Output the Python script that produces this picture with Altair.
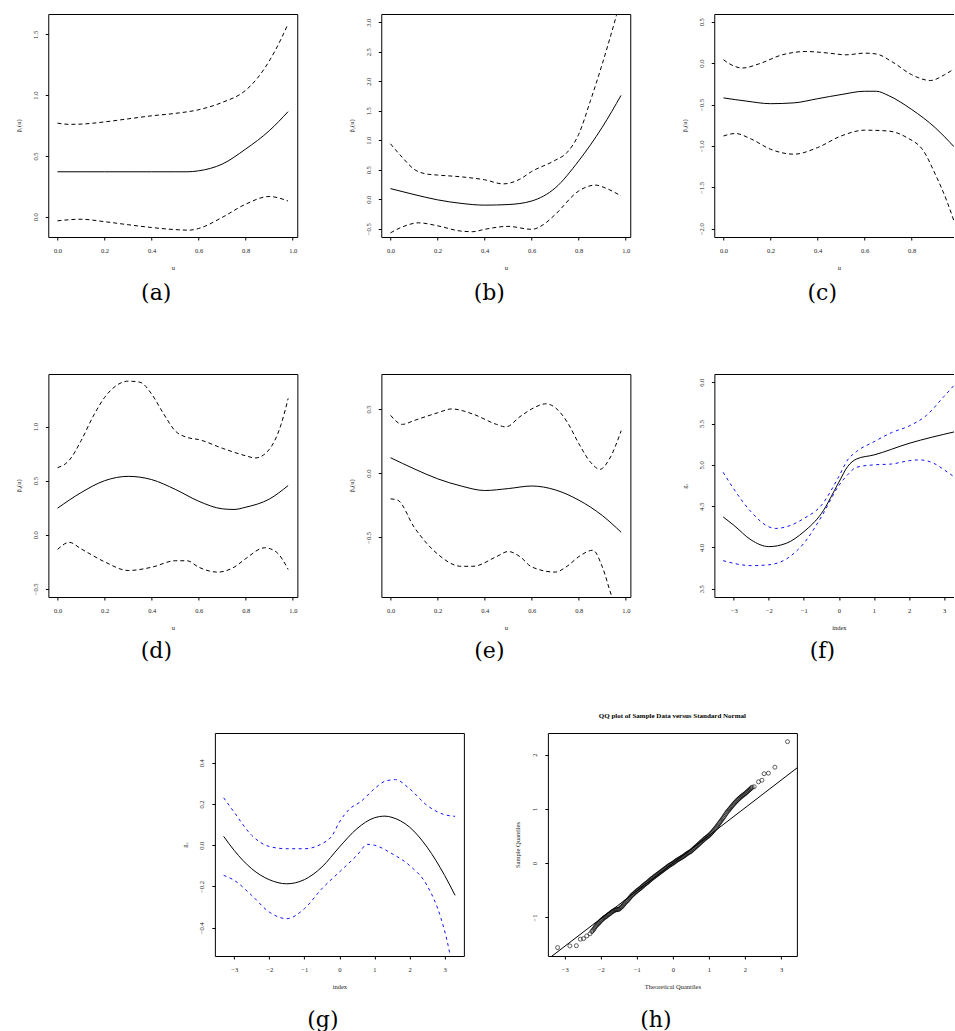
import altair as alt
import pandas as pd

SERIF = "Liberation Serif"
CAP_FONT = "DejaVu Serif"

# ---------------- data ----------------
# (a)
A_EST_U = [0, 0.1, 0.2, 0.3, 0.4, 0.5, 0.55, 0.6, 0.7, 0.8, 0.9, 0.98]
A_EST = [0.37, 0.37, 0.37, 0.37, 0.37, 0.37, 0.37, 0.378, 0.433, 0.557, 0.707, 0.864]
A_HI_U = [0, 0.05, 0.1, 0.2, 0.3, 0.4, 0.5, 0.6, 0.7, 0.8, 0.85, 0.9, 0.95, 0.98]
A_HI = [0.77, 0.76, 0.762, 0.78, 0.805, 0.83, 0.85, 0.88, 0.94, 1.04, 1.14, 1.28, 1.46, 1.585]
A_LO_U = [0, 0.1, 0.2, 0.3, 0.4, 0.5, 0.56, 0.6, 0.7, 0.8, 0.9, 0.98]
A_LO = [-0.033, -0.02, -0.04, -0.065, -0.088, -0.105, -0.11, -0.096, -0.005, 0.104, 0.167, 0.13]

# (b)
B_EST_U = [0, 0.1, 0.2, 0.3, 0.4, 0.5, 0.6, 0.7, 0.8, 0.9, 0.98]
B_EST = [0.18, 0.08, -0.01, -0.07, -0.10, -0.09, -0.03, 0.19, 0.65, 1.22, 1.76]
B_HI_U = [0, 0.05, 0.1, 0.15, 0.2, 0.3, 0.4, 0.48, 0.55, 0.6, 0.7, 0.75, 0.8, 0.85, 0.9, 0.96, 0.98]
B_HI = [0.94, 0.71, 0.51, 0.43, 0.41, 0.38, 0.33, 0.26, 0.34, 0.47, 0.66, 0.79, 1.10, 1.67, 2.29, 3.11, 3.40]
B_LO_U = [0, 0.05, 0.12, 0.2, 0.3, 0.35, 0.4, 0.5, 0.6, 0.65, 0.7, 0.8, 0.87, 0.92, 0.98]
B_LO = [-0.57, -0.47, -0.40, -0.45, -0.54, -0.55, -0.51, -0.46, -0.51, -0.43, -0.26, 0.14, 0.24, 0.18, 0.055]

# (c)
C_EST_U = [0, 0.1, 0.2, 0.3, 0.4, 0.5, 0.6, 0.65, 0.7, 0.8, 0.9, 0.98]
C_EST = [-0.42, -0.46, -0.49, -0.48, -0.43, -0.38, -0.34, -0.34, -0.39, -0.56, -0.78, -1.01]
C_HI_U = [0, 0.04, 0.08, 0.15, 0.25, 0.35, 0.45, 0.52, 0.6, 0.65, 0.72, 0.8, 0.88, 0.94, 0.98]
C_HI = [0.04, -0.03, -0.06, -0.01, 0.10, 0.14, 0.12, 0.10, 0.12, 0.11, 0.01, -0.14, -0.21, -0.14, -0.07]
C_LO_U = [0, 0.05, 0.12, 0.2, 0.3, 0.4, 0.5, 0.6, 0.7, 0.78, 0.85, 0.9, 0.95, 0.98]
C_LO = [-0.88, -0.85, -0.92, -1.04, -1.10, -1.02, -0.88, -0.81, -0.82, -0.90, -1.06, -1.34, -1.67, -1.91]

# (d)
D_EST_U = [0, 0.1, 0.2, 0.3, 0.4, 0.5, 0.6, 0.7, 0.75, 0.8, 0.9, 0.98]
D_EST = [0.246, 0.39, 0.50, 0.54, 0.51, 0.42, 0.31, 0.24, 0.234, 0.255, 0.33, 0.455]
D_HI_U = [0, 0.05, 0.1, 0.15, 0.2, 0.25, 0.3, 0.35, 0.4, 0.45, 0.5, 0.55, 0.6, 0.7, 0.8, 0.84, 0.9, 0.95, 0.98]
D_HI = [0.62, 0.69, 0.87, 1.09, 1.27, 1.38, 1.42, 1.41, 1.30, 1.12, 0.96, 0.90, 0.88, 0.80, 0.73, 0.71, 0.79, 1.02, 1.26]
D_LO_U = [0, 0.05, 0.1, 0.2, 0.3, 0.4, 0.5, 0.55, 0.6, 0.68, 0.75, 0.8, 0.88, 0.93, 0.98]
D_LO = [-0.135, -0.07, -0.13, -0.25, -0.33, -0.30, -0.24, -0.24, -0.30, -0.345, -0.30, -0.22, -0.12, -0.16, -0.32]

# (e)
E_EST_U = [0, 0.1, 0.2, 0.3, 0.4, 0.5, 0.6, 0.7, 0.8, 0.9, 0.98]
E_EST = [0.12, 0.034, -0.044, -0.10, -0.135, -0.12, -0.10, -0.13, -0.21, -0.33, -0.46]
E_HI_U = [0, 0.05, 0.1, 0.2, 0.26, 0.35, 0.45, 0.49, 0.55, 0.6, 0.66, 0.7, 0.75, 0.8, 0.85, 0.89, 0.93, 0.98]
E_HI = [0.45, 0.38, 0.41, 0.47, 0.50, 0.46, 0.38, 0.36, 0.44, 0.50, 0.54, 0.51, 0.40, 0.23, 0.085, 0.03, 0.11, 0.33]
E_LO_U = [0, 0.03, 0.1, 0.2, 0.3, 0.35, 0.45, 0.5, 0.55, 0.6, 0.7, 0.75, 0.8, 0.86, 0.9, 0.94, 0.98]
E_LO = [-0.20, -0.21, -0.42, -0.63, -0.725, -0.725, -0.65, -0.61, -0.65, -0.73, -0.77, -0.725, -0.65, -0.60, -0.73, -0.96, -1.15]

# (f)
F_EST_X = [-3.3, -3.0, -2.5, -2.0, -1.5, -1.0, -0.5, 0.0, 0.25, 0.5, 1.0, 2.0, 3.3]
F_EST = [4.37, 4.27, 4.09, 4.01, 4.05, 4.19, 4.41, 4.79, 4.98, 5.07, 5.12, 5.26, 5.40]
F_HI_X = [-3.3, -3.0, -2.5, -2.0, -1.8, -1.5, -1.0, -0.5, 0.0, 0.25, 0.5, 1.0, 1.5, 2.0, 2.5, 3.0, 3.3]
F_HI = [4.91, 4.71, 4.43, 4.25, 4.23, 4.25, 4.35, 4.51, 4.86, 5.06, 5.16, 5.28, 5.39, 5.47, 5.60, 5.83, 5.97]
F_LO_X = [-3.3, -2.5, -2.0, -1.5, -1.0, -0.5, 0.0, 0.25, 0.5, 1.0, 1.5, 2.0, 2.3, 2.7, 3.0, 3.3]
F_LO = [3.84, 3.78, 3.79, 3.86, 4.05, 4.37, 4.75, 4.88, 4.97, 5.00, 5.01, 5.05, 5.06, 5.02, 4.94, 4.85]

# (g)
G_EST_X = [-3.3, -3.0, -2.5, -2.0, -1.5, -1.0, -0.5, 0.0, 0.5, 1.0, 1.3, 1.5, 2.0, 2.5, 3.0, 3.3]
G_EST = [0.043, -0.025, -0.114, -0.167, -0.187, -0.167, -0.106, -0.009, 0.08, 0.133, 0.141, 0.135, 0.088, -0.009, -0.146, -0.243]
G_HI_X = [-3.3, -3.0, -2.5, -2.0, -1.5, -1.0, -0.5, -0.2, 0.0, 0.3, 0.6, 1.0, 1.3, 1.6, 2.0, 2.5, 3.0, 3.3]
G_HI = [0.23, 0.16, 0.048, -0.006, -0.017, -0.017, 0.007, 0.048, 0.112, 0.177, 0.21, 0.274, 0.31, 0.318, 0.274, 0.193, 0.148, 0.14]
G_LO_X = [-3.3, -3.0, -2.5, -2.0, -1.5, -1.0, -0.5, 0.0, 0.5, 0.8, 1.0, 1.5, 2.0, 2.5, 2.9, 3.1, 3.15]
G_LO = [-0.146, -0.17, -0.243, -0.324, -0.356, -0.308, -0.211, -0.13, -0.049, 0.004, 0.0, -0.041, -0.098, -0.195, -0.356, -0.485, -0.526]

# (h) QQ plot: points read along the plotted band
QQ_X = [-3.20, -2.86, -2.68, -2.57, -2.48, -2.39, -2.30,
        -2.25, -2.20, -2.15, -2.10, -2.05, -2.00, -1.95, -1.90, -1.85, -1.80,
        -1.75, -1.70, -1.65, -1.60, -1.55, -1.50, -1.45, -1.40, -1.35, -1.30,
        -1.25, -1.20, -1.15, -1.10, -1.05, -1.00, -0.95, -0.90, -0.85, -0.80,
        -0.75, -0.70, -0.65, -0.60, -0.55, -0.50, -0.45, -0.40, -0.35, -0.30,
        -0.25, -0.20, -0.15, -0.10, -0.05, 0.00, 0.05, 0.10, 0.15, 0.20,
        0.25, 0.30, 0.35, 0.40, 0.45, 0.50, 0.55, 0.60, 0.65, 0.70,
        0.75, 0.80, 0.85, 0.90, 0.95, 1.00, 1.05, 1.10, 1.15, 1.20,
        1.25, 1.30, 1.35, 1.40, 1.45, 1.50, 1.55, 1.60, 1.65, 1.70,
        1.75, 1.80, 1.85, 1.90, 1.95, 2.00, 2.05, 2.10, 2.15, 2.20,
        2.255, 2.375, 2.47, 2.53, 2.65, 2.83, 3.18]
QQ_Y = [-1.555, -1.524, -1.52, -1.40, -1.39, -1.34, -1.30,
        -1.26, -1.22, -1.17, -1.13, -1.10, -1.06, -1.03, -1.00, -0.98, -0.95,
        -0.93, -0.90, -0.88, -0.86, -0.855, -0.85, -0.82, -0.79, -0.75, -0.71,
        -0.68, -0.64, -0.60, -0.57, -0.54, -0.51, -0.485, -0.46, -0.43, -0.40,
        -0.375, -0.35, -0.32, -0.29, -0.265, -0.24, -0.215, -0.19, -0.165, -0.14,
        -0.115, -0.09, -0.065, -0.04, -0.02, 0.00, 0.025, 0.05, 0.07, 0.09,
        0.11, 0.13, 0.155, 0.18, 0.20, 0.22, 0.25, 0.28, 0.31, 0.34,
        0.37, 0.40, 0.43, 0.46, 0.485, 0.51, 0.545, 0.58, 0.62, 0.66,
        0.705, 0.75, 0.795, 0.84, 0.89, 0.94, 0.98, 1.02, 1.06, 1.10,
        1.135, 1.17, 1.20, 1.23, 1.255, 1.28, 1.31, 1.34, 1.37, 1.40,
        1.41, 1.50, 1.53, 1.65, 1.66, 1.77, 2.24]
QQ_X2 = [-2.225, -2.175, -2.125, -2.075, -2.025, -1.975, -1.925, -1.875, -1.825,
         -1.775, -1.725, -1.675, -1.625, -1.575, -1.525, -1.475, -1.425, -1.375,
         -1.325, -1.275, -1.225, -1.175, -1.125, -1.075, -1.025, -0.975, -0.925,
         -0.875, -0.825, -0.775, -0.725, -0.675, -0.625, -0.575, -0.525, -0.475,
         -0.425, -0.375, -0.325, -0.275, -0.225, -0.175, -0.125, -0.075, -0.025,
         0.025, 0.075, 0.125, 0.175, 0.225, 0.275, 0.325, 0.375, 0.425,
         0.475, 0.525, 0.575, 0.625, 0.675, 0.725, 0.775, 0.825, 0.875,
         0.925, 0.975, 1.025, 1.075, 1.125, 1.175, 1.225, 1.275, 1.325,
         1.375, 1.425, 1.475, 1.525, 1.575, 1.625, 1.675, 1.725, 1.775,
         1.825, 1.875, 1.925, 1.975, 2.025, 2.075, 2.125, 2.175]
QQ_Y2 = [-1.24, -1.195, -1.15, -1.115, -1.08, -1.045, -1.015, -0.99, -0.965,
         -0.94, -0.915, -0.89, -0.87, -0.858, -0.852, -0.835, -0.805, -0.77,
         -0.73, -0.695, -0.66, -0.62, -0.585, -0.555, -0.525, -0.497, -0.472,
         -0.445, -0.415, -0.388, -0.362, -0.335, -0.305, -0.278, -0.252, -0.228,
         -0.202, -0.178, -0.152, -0.128, -0.102, -0.078, -0.052, -0.03, -0.01,
         0.012, 0.038, 0.06, 0.08, 0.10, 0.12, 0.142, 0.168, 0.19,
         0.21, 0.235, 0.265, 0.295, 0.325, 0.355, 0.385, 0.415, 0.445,
         0.472, 0.498, 0.528, 0.562, 0.60, 0.64, 0.683, 0.728, 0.772,
         0.818, 0.865, 0.915, 0.96, 1.00, 1.04, 1.08, 1.118, 1.152,
         1.185, 1.215, 1.243, 1.268, 1.295, 1.325, 1.355, 1.385]
QQ_LINE_X = [-3.6, 3.6]
QQ_LINE_Y = [-1.836, 1.836]
QQ_TITLE = "QQ plot of Sample Data versus Standard Normal"

U_TICKS = [0.0, 0.2, 0.4, 0.6, 0.8, 1.0]
IDX_TICKS = [-3, -2, -1, 0, 1, 2, 3]

W, H = 249, 223
BLUE = "#1010ff"


def x_axis(values, fmt, title):
    return alt.Axis(values=values, format=fmt, title=title, grid=False, domain=False,
                    tickSize=3, tickColor="black", tickWidth=1,
                    labelFont=SERIF, labelFontSize=6.5, labelColor="#222",
                    labelPadding=7, labelFlush=False, labelOverlap=False,
                    titleFont=SERIF, titleFontSize=6.5, titleFontWeight="normal",
                    titleColor="#222", titlePadding=11)


def y_axis(values, fmt, title):
    return alt.Axis(values=values, format=fmt, title=title, grid=False, domain=False,
                    tickSize=3, tickColor="black", tickWidth=1,
                    labelFont=SERIF, labelFontSize=6.5, labelColor="#222",
                    labelAngle=270, labelAlign="center", labelBaseline="bottom",
                    labelPadding=7, labelFlush=False, labelOverlap=False,
                    titleFont=SERIF, titleFontSize=6.5, titleFontWeight="normal",
                    titleColor="#222", titlePadding=11)


def caption(text, offset):
    return alt.TitleParams(text=text, orient="bottom", anchor="middle", frame="bounds",
                           font=CAP_FONT, fontSize=22, fontWeight="normal",
                           color="black", offset=offset)


def curve_panel(ex, ey, lx, ly, hx, hy, xdom, ydom, xticks, yticks, xfmt, yfmt,
                xtitle, ytitle, label, band_color, band_dash, cap_offset):
    est_df = pd.DataFrame({"x": ex, "y": ey})
    band_df = pd.concat([
        pd.DataFrame({"x": lx, "y": ly, "kind": "lower"}),
        pd.DataFrame({"x": hx, "y": hy, "kind": "upper"}),
    ])
    X = alt.X("x:Q", scale=alt.Scale(domain=xdom, nice=False, zero=False),
              axis=x_axis(xticks, xfmt, xtitle))
    Y = alt.Y("y:Q", scale=alt.Scale(domain=ydom, nice=False, zero=False),
              axis=y_axis(yticks, yfmt, ytitle))
    band = alt.Chart(band_df).mark_line(
        color=band_color, strokeDash=band_dash, strokeWidth=1, clip=True,
        interpolate="monotone").encode(x=X, y=Y, detail="kind:N")
    est = alt.Chart(est_df).mark_line(
        color="black", strokeWidth=1, clip=True,
        interpolate="monotone").encode(x=X, y=Y)
    return alt.layer(band, est).properties(width=W, height=H,
                                           title=caption(label, cap_offset))


UDOM = [-0.0392, 1.0192]
IDOM = [-3.55, 3.55]

pa = curve_panel(A_EST_U, A_EST, A_LO_U, A_LO, A_HI_U, A_HI, UDOM, [-0.166, 1.667],
                 U_TICKS, [0.0, 0.5, 1.0, 1.5], ".1f", ".1f", "u", "β₁(u)", "(a)",
                 "black", [4, 3], 12)
pb = curve_panel(B_EST_U, B_EST, B_LO_U, B_LO, B_HI_U, B_HI, UDOM, [-0.64, 3.14],
                 U_TICKS, [-0.5, 0.0, 0.5, 1.0, 1.5, 2.0, 2.5, 3.0], ".1f", ".1f",
                 "u", "β₂(u)", "(b)", "black", [4, 3], 12)
pc = curve_panel(C_EST_U, C_EST, C_LO_U, C_LO, C_HI_U, C_HI, UDOM, [-2.10, 0.593],
                 U_TICKS, [-2.0, -1.5, -1.0, -0.5, 0.0, 0.5], ".1f", ".1f",
                 "u", "β₃(u)", "(c)", "black", [4, 3], 12)
pd_ = curve_panel(D_EST_U, D_EST, D_LO_U, D_LO, D_HI_U, D_HI, UDOM, [-0.575, 1.486],
                  U_TICKS, [-0.5, 0.0, 0.5, 1.0], ".1f", ".1f",
                  "u", "β₄(u)", "(d)", "black", [4, 3], 10)
pe = curve_panel(E_EST_U, E_EST, E_LO_U, E_LO, E_HI_U, E_HI, UDOM, [-0.964, 0.772],
                 U_TICKS, [-0.5, 0.0, 0.5], ".1f", ".1f",
                 "u", "β₅(u)", "(e)", "black", [4, 3], 10)
pf = curve_panel(F_EST_X, F_EST, F_LO_X, F_LO, F_HI_X, F_HI, IDOM, [3.40, 6.10],
                 IDX_TICKS, [3.5, 4.0, 4.5, 5.0, 5.5, 6.0], "d", ".1f",
                 "index", "g₁", "(f)", BLUE, [3, 3.5], 10)
pg = curve_panel(G_EST_X, G_EST, G_LO_X, G_LO, G_HI_X, G_HI, IDOM, [-0.537, 0.544],
                 IDX_TICKS, [-0.4, -0.2, 0.0, 0.2, 0.4], "d", ".1f",
                 "index", "g₂", "(g)", BLUE, [3, 3.5], 20)

# QQ panel
qq_df = pd.DataFrame({"x": QQ_X + QQ_X2, "y": QQ_Y + QQ_Y2})
qq_line_df = pd.DataFrame({"x": QQ_LINE_X, "y": QQ_LINE_Y})
QX = alt.X("x:Q", scale=alt.Scale(domain=[-3.47, 3.44], nice=False, zero=False),
           axis=x_axis(IDX_TICKS, "d", "Theoretical Quantiles"))
QY = alt.Y("y:Q", scale=alt.Scale(domain=[-1.71, 2.40], nice=False, zero=False),
           axis=y_axis([-1, 0, 1, 2], "d", "Sample Quantiles"))
qq_pts = alt.Chart(qq_df).mark_point(shape="circle", filled=False, size=16,
                                     color="black", strokeWidth=0.9,
                                     clip=True).encode(x=QX, y=QY)
qq_ln = alt.Chart(qq_line_df).mark_line(color="black", strokeWidth=1,
                                        clip=True).encode(x=QX, y=QY)
qq_ttl = alt.Chart(pd.DataFrame({"t": [QQ_TITLE]})).mark_text(
    font=SERIF, fontSize=7, fontWeight="bold", color="black", baseline="middle"
).encode(text="t:N", x=alt.value(W / 2), y=alt.value(-17))
ph = alt.layer(qq_ln, qq_pts, qq_ttl).properties(width=W, height=H,
                                                  title=caption("(h)", 20))

row1 = alt.hconcat(pa, pb, pc, spacing=84, bounds="flush")
row2 = alt.hconcat(pd_, pe, pf, spacing=84, bounds="flush")
row3 = alt.hconcat(pg, ph, spacing=84, bounds="flush")

lower = alt.vconcat(row2, row3, spacing=48, center=True)
chart = alt.vconcat(row1, lower, spacing=68, center=True).properties(
    padding={"left": 14, "top": 13, "right": -10, "bottom": 0},
    background="white",
).configure_view(stroke="black", strokeWidth=1)

chart.save("out.html", embed_options={"renderer": "svg", "actions": False})
